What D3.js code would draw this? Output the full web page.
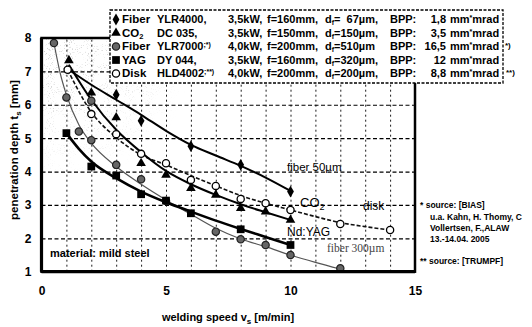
<!DOCTYPE html>
<html>
<head>
<meta charset="utf-8">
<script src="https://cdn.jsdelivr.net/npm/d3@7"></script>
<style>
  body { margin: 0; background: #fff; }
  svg { display: block; font-family: "Liberation Sans", Arial, sans-serif; }
  .grid line { stroke: #000; }
  .grid path { display: none; }
  .tick text { font-weight: bold; font-size: 12px; fill: #000; }
</style>
</head>
<body>
<div id="chart"></div>
<script>
// axes
var xTicks = [0, 5, 10, 15];
var yTicks = [1, 2, 3, 4, 5, 6, 7, 8];
var xGrid = [1, 2, 3, 4, 5, 6, 7, 8, 9, 10, 11, 12, 13, 14];
var yGrid = [2, 3, 4, 5, 6, 7];

// measured points [v_s, t_s]
var fiber4000Pts = [[3, 6.3], [4, 5.52], [6, 4.76], [8, 4.2], [10, 3.4]];
var co2Pts = [[1.1, 7.33], [2, 6.36], [3, 5.62], [4, 4.25], [5, 3.9], [6, 3.5], [7, 3.3], [8, 2.9], [9, 2.8], [10, 2.55]];
var fiber7000Pts = [[0.5, 7.85], [1, 6.22], [1.5, 5.2], [2, 6.12], [2, 4.94], [3, 4.2], [4, 3.77], [5, 3.12], [7, 2.2], [8, 1.97], [9, 1.8], [10, 1.5], [12, 1.1]];
var yagPts = [[1, 5.15], [2, 4.15], [3, 3.88], [4, 3.32], [5, 3.13], [6, 2.75], [8, 2.27], [10, 1.8]];
var diskPts = [[1.05, 7.05], [2, 5.72], [3, 5.12], [4, 4.53], [5, 4.25], [6, 3.75], [7, 3.57], [8, 3.18], [9, 3.05], [10, 2.85], [12, 2.43], [14, 2.25]];

// fitted curves
var fiber4000Fit = [[1.1, 7.05], [2, 6.6], [3, 6.15], [4, 5.7], [5, 5.22], [6, 4.8], [7, 4.48], [8, 4.17], [9, 3.82], [10, 3.42]];
var co2Fit = [[1.1, 7.2], [2, 6.15], [3, 5.25], [4, 4.58], [5, 4.02], [6, 3.62], [7, 3.3], [8, 3.02], [9, 2.78], [10, 2.55]];
var diskFit = [[1.05, 7.05], [2, 5.78], [3, 5.02], [4, 4.5], [5, 4.2], [6, 3.88], [7, 3.57], [8, 3.28], [9, 3.05], [10, 2.85], [11, 2.65], [12, 2.47], [13, 2.35], [14, 2.25]];
var yagFit = [[1, 5.15], [1.5, 4.68], [2, 4.3], [3, 3.8], [4, 3.4], [5, 3.08], [6, 2.8], [7, 2.53], [8, 2.28], [9, 2.04], [10, 1.8]];
var fiber7000Fit = [[0.5, 7.85], [0.75, 6.95], [1, 6.3], [1.5, 5.4], [2, 4.85], [3, 4.15], [4, 3.62], [5, 3.15], [6, 2.72], [7, 2.3], [8, 1.98], [9, 1.75], [10, 1.5], [11, 1.28], [12, 1.08]];

// legend table
var lgNames = ["Fiber", "CO", "Fiber", "YAG", "Disk"];
var lgModels = ["YLR4000,", "DC 035,", "YLR7000", "DY 044,", "HLD4002"];
var lgNotes = ["", "", ";*)", "", ";**)"];
var lgPower = ["3,5kW,", "3,5kW,", "4,0kW,", "3,5kW,", "4,0kW,"];
var lgFocal = ["f=160mm,", "f=150mm,", "f=200mm,", "f=160mm,", "f=200mm,"];
var lgSpot = ["=\u00a0\u00a067µm,", "=150µm,", "=510µm", "=320µm,", "=200µm,"];
var lgBpp = ["1,8", "3,5", "16,5", "12", "8,8"];
var lgMarks = ["diamond", "triangle", "hex", "square", "circle"];

var width = 532, height = 327;
var x = d3.scaleLinear().domain([0, 15]).range([41.5, 415]);
var y = d3.scaleLinear().domain([1, 8]).range([271.7, 38]);

var svg = d3.select("#chart").append("svg")
    .attr("width", width)
    .attr("height", height);

var defs = svg.append("defs");
var f = defs.append("filter").attr("id", "speckle").attr("x", 0).attr("y", 0).attr("width", 1).attr("height", 1);
f.append("feTurbulence").attr("type", "fractalNoise").attr("baseFrequency", 0.95).attr("numOctaves", 1).attr("seed", 7);
f.append("feColorMatrix").attr("type", "matrix")
    .attr("values", "0 0 0 0 0.35  0 0 0 0 0.35  0 0 0 0 0.35  5 0 0 0 -3.0");
var rg = defs.append("radialGradient").attr("id", "fade").attr("gradientUnits", "userSpaceOnUse")
    .attr("cx", 60).attr("cy", 50).attr("r", 135);
rg.append("stop").attr("offset", 0).attr("stop-color", "#fff").attr("stop-opacity", 0.75);
rg.append("stop").attr("offset", 0.5).attr("stop-color", "#fff").attr("stop-opacity", 0.4);
rg.append("stop").attr("offset", 1).attr("stop-color", "#fff").attr("stop-opacity", 0);
defs.append("mask").attr("id", "fadeMask").append("rect")
    .attr("x", 0).attr("y", 0).attr("width", width).attr("height", height).attr("fill", "url(#fade)");

// speckled scan shading in the upper left
svg.append("rect")
    .attr("x", x(0)).attr("y", y(8))
    .attr("width", x(6) - x(0)).attr("height", y(4) - y(8))
    .attr("filter", "url(#speckle)")
    .attr("mask", "url(#fadeMask)");

// grid
svg.append("g").attr("class", "grid")
    .attr("transform", "translate(0," + y(1) + ")")
    .call(d3.axisBottom(x).tickValues(xGrid).tickSize(-(y(1) - y(8))).tickFormat(""))
    .selectAll("line").attr("stroke-width", 0.9).attr("stroke-dasharray", "2,3").attr("stroke", "#222");
svg.append("g").attr("class", "grid")
    .attr("transform", "translate(" + x(0) + ",0)")
    .call(d3.axisLeft(y).tickValues(yGrid).tickSize(-(x(15) - x(0))).tickFormat(""))
    .selectAll("line").attr("stroke-width", 1.2).attr("stroke-dasharray", "4,2.5");

// curves
var line = d3.line().x(function (d) { return x(d[0]); }).y(function (d) { return y(d[1]); })
    .curve(d3.curveMonotoneX);
svg.append("path").datum(fiber7000Fit).attr("d", line)
    .attr("fill", "none").attr("stroke", "#555").attr("stroke-width", 1.2);
svg.append("path").datum(diskFit).attr("d", line)
    .attr("fill", "none").attr("stroke", "#111").attr("stroke-width", 1.6).attr("stroke-dasharray", "4,2");
svg.append("path").datum(co2Fit).attr("d", line)
    .attr("fill", "none").attr("stroke", "#000").attr("stroke-width", 2);
svg.append("path").datum(fiber4000Fit).attr("d", line)
    .attr("fill", "none").attr("stroke", "#000").attr("stroke-width", 2);
svg.append("path").datum(yagFit).attr("d", line)
    .attr("fill", "none").attr("stroke", "#000").attr("stroke-width", 2.6);

// markers
function mark(g, kind, cx, cy) {
    if (kind === "circle") {
        g.append("circle").attr("cx", cx).attr("cy", cy).attr("r", 3.6)
            .attr("fill", "#fff").attr("stroke", "#000").attr("stroke-width", 1.3);
    } else if (kind === "hex") {
        g.append("path").attr("transform", "translate(" + cx + "," + cy + ")")
            .attr("d", d3.symbol().type(d3.symbolCircle).size(42)())
            .attr("fill", "#666").attr("stroke", "#222").attr("stroke-width", 1.2);
    } else {
        var t = kind === "diamond" ? d3.symbolDiamond : kind === "triangle" ? d3.symbolTriangle : d3.symbolSquare;
        var s = kind === "diamond" ? 40 : kind === "triangle" ? 40 : 60;
        g.append("path").attr("transform", "translate(" + cx + "," + cy + ")")
            .attr("d", d3.symbol().type(t).size(s)())
            .attr("fill", "#000");
    }
}
var gm = svg.append("g");
[[fiber7000Pts, "hex"], [diskPts, "circle"], [co2Pts, "triangle"], [fiber4000Pts, "diamond"], [yagPts, "square"]]
    .forEach(function (s) {
        s[0].forEach(function (d) { mark(gm, s[1], x(d[0]), y(d[1])); });
    });

// frame
svg.append("rect")
    .attr("x", x(0)).attr("y", y(8))
    .attr("width", x(15) - x(0)).attr("height", y(1) - y(8))
    .attr("fill", "none").attr("stroke", "#000").attr("stroke-width", 2.5);
svg.append("line").attr("x1", x(0)).attr("x2", x(0)).attr("y1", y(8)).attr("y2", y(1))
    .attr("stroke", "#000").attr("stroke-width", 3.2);
svg.append("line").attr("x1", x(0)).attr("x2", x(15)).attr("y1", y(1)).attr("y2", y(1))
    .attr("stroke", "#000").attr("stroke-width", 3.2);

// tick labels
svg.append("g")
    .attr("transform", "translate(0," + y(1) + ")")
    .call(d3.axisBottom(x).tickValues(xTicks).tickSize(0).tickPadding(15).tickFormat(d3.format("d")))
    .call(function (g) { g.select(".domain").remove(); });
svg.append("g")
    .attr("transform", "translate(" + x(0) + ",0)")
    .call(d3.axisLeft(y).tickValues(yTicks).tickSize(0).tickPadding(10).tickFormat(d3.format("d")))
    .call(function (g) { g.select(".domain").remove(); });

// axis titles
var yt = svg.append("text")
    .attr("transform", "translate(18,150) rotate(-90)")
    .attr("text-anchor", "middle")
    .attr("font-size", 11.5).attr("font-weight", "bold");
yt.append("tspan").text("penetration depth t");
yt.append("tspan").attr("font-size", 8).attr("dy", 3).text("s");
yt.append("tspan").attr("dy", -3).text(" [mm]");
var xt = svg.append("text")
    .attr("x", 228).attr("y", 321)
    .attr("text-anchor", "middle")
    .attr("font-size", 11).attr("font-weight", "bold");
xt.append("tspan").text("welding speed v");
xt.append("tspan").attr("font-size", 8).attr("dy", 3).text("s");
xt.append("tspan").attr("dy", -3).text(" [m/min]");

// curve labels
svg.append("text").attr("x", 287).attr("y", 171).attr("font-size", 11.5).text("fiber 50µm");
var co = svg.append("text").attr("x", 300).attr("y", 207).attr("font-size", 13);
co.append("tspan").text("CO");
co.append("tspan").attr("font-size", 9).attr("dy", 3).text("2");
svg.append("text").attr("x", 363).attr("y", 210).attr("font-size", 12).text("disk");
svg.append("text").attr("x", 287).attr("y", 236).attr("font-size", 12).text("Nd:YAG");
svg.append("text").attr("x", 327).attr("y", 252).attr("font-size", 11.5)
    .attr("font-family", "Liberation Serif, serif").attr("fill", "#444").text("fiber 300µm");
svg.append("text").attr("x", 50).attr("y", 257).attr("font-size", 11).attr("font-weight", "bold").text("material: mild steel");

// legend
var lg = svg.append("g").attr("font-size", 11).attr("font-weight", "bold");
lg.append("rect").attr("x", 110).attr("y", 10).attr("width", 393).attr("height", 73)
    .attr("fill", "#fff").attr("stroke", "#000").attr("stroke-width", 1.3).attr("stroke-dasharray", "3,1.5");
lgNames.forEach(function (n, i) {
    var ry = 23 + i * 13.5;
    mark(lg, lgMarks[i], 116, ry - 3.5);
    var t = lg.append("text").attr("x", 122).attr("y", ry).attr("font-size", 11.5);
    t.append("tspan").text(n);
    if (i === 1) t.append("tspan").attr("font-size", 7.5).attr("dy", 2.5).text("2");
    var m = lg.append("text").attr("x", 157).attr("y", ry);
    m.append("tspan").text(lgModels[i]);
    if (lgNotes[i]) m.append("tspan").attr("font-size", 7).attr("dy", -3).text(lgNotes[i]);
    lg.append("text").attr("x", 228).attr("y", ry).text(lgPower[i]);
    lg.append("text").attr("x", 267).attr("y", ry).text(lgFocal[i]);
    var d = lg.append("text").attr("x", 325).attr("y", ry);
    d.append("tspan").text("d");
    d.append("tspan").attr("font-size", 7).attr("dy", 2).text("f");
    d.append("tspan").attr("dy", -2).text(lgSpot[i]);
    lg.append("text").attr("x", 390).attr("y", ry).text("BPP:");
    lg.append("text").attr("x", 446).attr("y", ry).attr("text-anchor", "end").text(lgBpp[i]);
    var u = lg.append("text").attr("x", 450).attr("y", ry);
    u.append("tspan").text("mm");
    u.append("tspan").attr("font-size", 7).attr("dy", -3).text("*");
    u.append("tspan").attr("dy", 3).text("mrad");
});
svg.append("text").attr("x", 505).attr("y", 48).attr("font-size", 8).attr("font-weight", "bold").text("*)");
svg.append("text").attr("x", 506).attr("y", 75).attr("font-size", 8).attr("font-weight", "bold").text("**)");

// sources
var src = svg.append("g").attr("font-size", 8.5).attr("font-weight", "bold");
src.append("text").attr("x", 420).attr("y", 208).text("* source: [BIAS]");
src.append("text").attr("x", 430).attr("y", 220).text("u.a. Kahn, H. Thomy, C");
src.append("text").attr("x", 430).attr("y", 231).text("Vollertsen, F.,ALAW");
src.append("text").attr("x", 430).attr("y", 242).text("13.-14.04. 2005");
src.append("text").attr("x", 420).attr("y", 264).text("** source: [TRUMPF]");
</script>
</body>
</html>
